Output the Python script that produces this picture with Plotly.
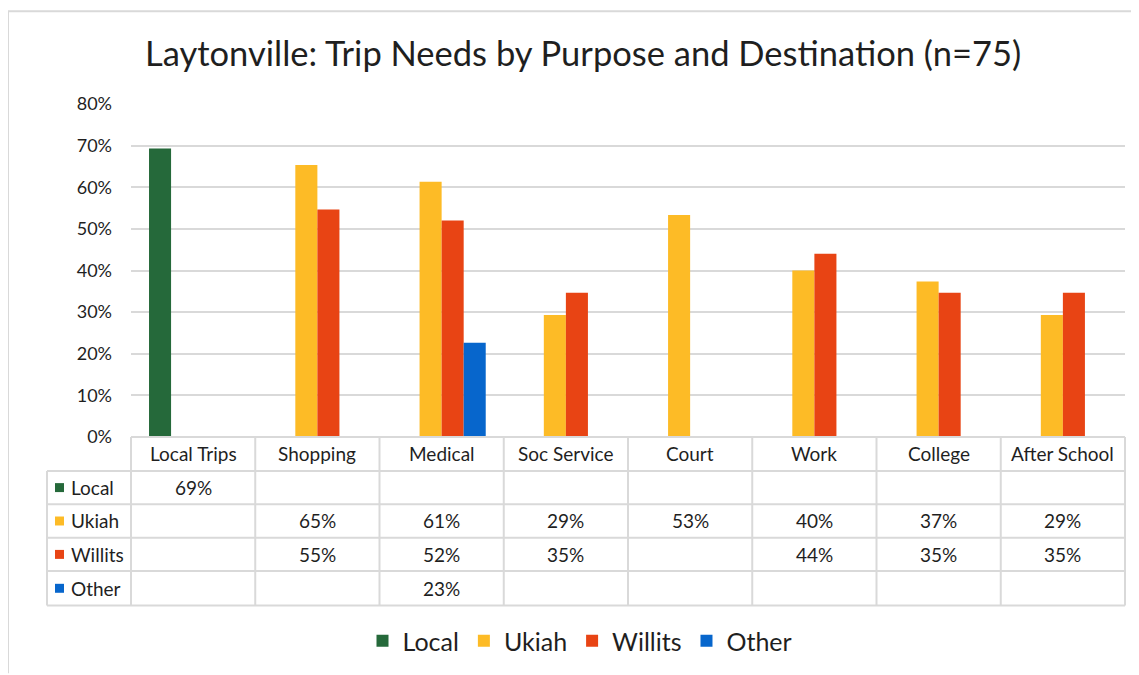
import plotly.graph_objects as go

categories = ["Local Trips", "Shopping", "Medical", "Soc Service", "Court", "Work", "College", "After School"]
series_names = ["Local", "Ukiah", "Willits", "Other"]
local = [0.6933, None, None, None, None, None, None, None]
ukiah = [None, 0.6533, 0.6133, 0.2933, 0.5333, 0.40, 0.3733, 0.2933]
willits = [None, 0.5467, 0.52, 0.3467, None, 0.44, 0.3467, 0.3467]
other = [None, None, 0.2267, None, None, None, None, None]
colors = ["#25693A", "#FDBB26", "#E84414", "#0766CC"]
title_text = "Laytonville: Trip Needs by Purpose and Destination (n=75)"

FONT = "Lato"
TXT = "#1f1f1f"
GRID = "#D9D9D9"

# page body has an 8px margin; figure sized to fill the visible window
OFF = 8
FW, FH = 1139 - OFF, 675 - OFF
# plot-area in reference (page) pixels
L, R, T, B = 131, 1125, 104, 438
W, H = R - L, B - T


def px(p):
    return (p - L) / W


def py(p):
    return (B - p) / H


fig = go.Figure()
all_series = [local, ukiah, willits, other]
for name, vals, col in zip(series_names, all_series, colors):
    fig.add_trace(go.Bar(x=categories, y=vals, name=name, marker_color=col,
                         marker_line_width=0))

shapes = []
# outer frame (partial, as cropped)
shapes.append(dict(type="line", xref="paper", yref="paper", x0=px(8), x1=px(1139),
                   y0=py(11), y1=py(11), line=dict(color=GRID, width=2)))
shapes.append(dict(type="line", xref="paper", yref="paper", x0=px(8), x1=px(8),
                   y0=py(11), y1=py(675), line=dict(color=GRID, width=2)))

# data table grid
row_edges = [438, 472, 505.5, 539, 572.5, 607]
col_w = W / len(categories)
col_edges = [L + k * col_w for k in range(len(categories) + 1)]
tleft = 47
for i, yv in enumerate(row_edges):
    x0 = L if i == 0 else tleft
    shapes.append(dict(type="line", xref="paper", yref="paper", x0=px(x0), x1=px(R),
                       y0=py(yv), y1=py(yv), line=dict(color=GRID, width=2)))
for xv in col_edges:
    shapes.append(dict(type="line", xref="paper", yref="paper", x0=px(xv), x1=px(xv),
                       y0=py(row_edges[0]), y1=py(row_edges[-1]), line=dict(color=GRID, width=2)))
shapes.append(dict(type="line", xref="paper", yref="paper", x0=px(tleft), x1=px(tleft),
                   y0=py(row_edges[1]), y1=py(row_edges[-1]), line=dict(color=GRID, width=2)))

annotations = []
TS = 19
# header row
hy = (row_edges[0] + row_edges[1]) / 2
for c in categories:
    annotations.append(dict(x=c, xref="x", y=py(hy), yref="paper", text=c, showarrow=False,
                            font=dict(family=FONT, size=TS, color=TXT), xanchor="center", yanchor="middle"))
# series rows
for r, (name, vals, col) in enumerate(zip(series_names, all_series, colors)):
    cy = (row_edges[r + 1] + row_edges[r + 2]) / 2
    shapes.append(dict(type="rect", xref="paper", yref="paper", x0=px(55), x1=px(64),
                       y0=py(cy - 4.5), y1=py(cy + 4.5), fillcolor=col, line=dict(width=0)))
    annotations.append(dict(x=px(69), xref="paper", y=py(cy), yref="paper", text=name, showarrow=False,
                            font=dict(family=FONT, size=TS, color=TXT), xanchor="left", yanchor="middle"))
    for c, v in zip(categories, vals):
        if v is None:
            continue
        annotations.append(dict(x=c, xref="x", y=py(cy), yref="paper", text=f"{v:.0%}", showarrow=False,
                                font=dict(family=FONT, size=TS, color=TXT), xanchor="center", yanchor="middle"))

annotations.append(dict(x=px(583), xref="paper", y=py(52), yref="paper", text=title_text, showarrow=False,
                        font=dict(family=FONT, size=34.5, color=TXT), xanchor="center", yanchor="middle"))

fig.update_layout(
    width=FW, height=FH,
    margin=dict(l=L - OFF, r=FW - (R - OFF), t=T - OFF, b=FH - (B - OFF)),
    paper_bgcolor="white", plot_bgcolor="white",
    barmode="group", bargap=0.29, bargroupgap=0,
    font=dict(family=FONT, color=TXT),
    shapes=shapes, annotations=annotations,
    legend=dict(orientation="h", x=px(580), xanchor="center", y=py(641), yanchor="middle",
                font=dict(family=FONT, size=25, color=TXT), itemwidth=30, traceorder="normal"),
    xaxis=dict(showticklabels=False, showline=False, showgrid=False, ticks="", zeroline=False),
    yaxis=dict(range=[0, 0.8], dtick=0.1, tickformat=".0%", showgrid=True, gridcolor=GRID, gridwidth=2,
               zeroline=False, showline=False, ticks="", ticklabelstandoff=18,
               tickfont=dict(family=FONT, size=18, color=TXT)),
)

fig.write_html("out.html")
